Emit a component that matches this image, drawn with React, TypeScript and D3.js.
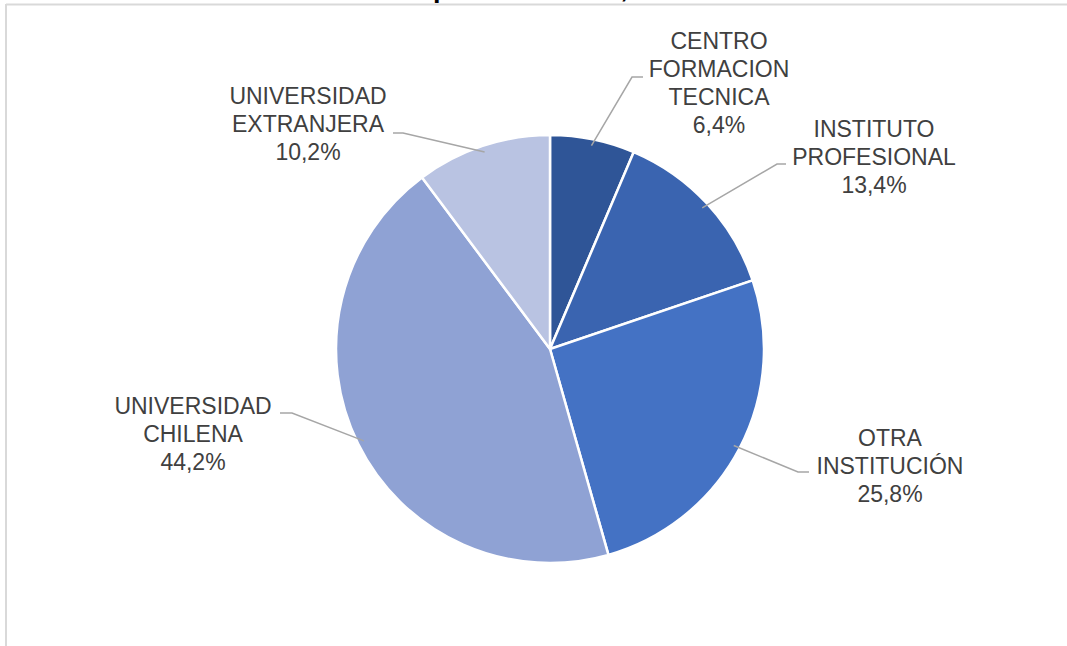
import React from "react";
import * as d3 from "d3";

const titleText = "Matrícula por institución, 2020";
const categories: string[][] = [
  ["CENTRO", "FORMACION", "TECNICA"],
  ["INSTITUTO", "PROFESIONAL"],
  ["OTRA", "INSTITUCIÓN"],
  ["UNIVERSIDAD", "CHILENA"],
  ["UNIVERSIDAD", "EXTRANJERA"],
];
const values: number[] = [6.4, 13.4, 25.8, 44.2, 10.2];
const percentLabels: string[] = ["6,4%", "13,4%", "25,8%", "44,2%", "10,2%"];
const colors: string[] = ["#2f5597", "#3a64b0", "#4472c4", "#8fa2d4", "#b9c3e2"];

// label layout: text centre x, first baseline y, leader-line elbow and end
const labelPos = [
  { x: 719, y: 49, elbow: [632, 77], end: [643, 77], r: 0.97 },
  { x: 874, y: 137, elbow: [777, 164], end: [786, 164], r: 0.97 },
  { x: 890, y: 446, elbow: [798, 472], end: [809, 472], r: 0.97 },
  { x: 193, y: 414, elbow: [292, 413], end: [280, 413], r: 0.97 },
  { x: 308, y: 104, elbow: [403, 133], end: [393, 133], r: 0.97 },
];

export default function App() {
  const W = 1067;
  const H = 646;
  const cx = 550;
  const cy = 349;
  const R = 214;

  const pie = d3.pie<number>().sort(null).value((d) => d);
  const arcs = pie(values);
  const arc = d3.arc<d3.PieArcDatum<number>>().innerRadius(0).outerRadius(R);
  const lh = 28;

  return (
    <svg
      width={W}
      height={H}
      style={{ position: "absolute", left: 0, top: 0, background: "#fff" }}
      fontFamily="'Liberation Sans', Arial, sans-serif"
    >
      <rect x={0} y={0} width={W} height={H} fill="#fff" />
      <text x={307} y={-3} textAnchor="start" fontSize={27} fontWeight="bold" fill="#000">
        {titleText}
      </text>
      <line x1={6} y1={4.5} x2={W} y2={4.5} stroke="#d9d9d9" strokeWidth={2} />
      <line x1={6} y1={4} x2={6} y2={H} stroke="#d9d9d9" strokeWidth={2} />
      <g transform={`translate(${cx},${cy})`}>
        {arcs.map((a, i) => (
          <path key={i} d={arc(a) || ""} fill={colors[i]} stroke="#fff" strokeWidth={2.5} />
        ))}
      </g>
      {arcs.map((a, i) => {
        const mid = (a.startAngle + a.endAngle) / 2;
        const lp = labelPos[i];
        const sx = cx + Math.sin(mid) * R * lp.r;
        const sy = cy - Math.cos(mid) * R * lp.r;
        return (
          <polyline
            key={"l" + i}
            points={`${sx},${sy} ${lp.elbow[0]},${lp.elbow[1]} ${lp.end[0]},${lp.end[1]}`}
            fill="none"
            stroke="#a6a6a6"
            strokeWidth={1.5}
          />
        );
      })}
      {categories.map((lines, i) => {
        const lp = labelPos[i];
        const all = [...lines, percentLabels[i]];
        return (
          <text key={"t" + i} textAnchor="middle" fontSize={23} fill="#404040">
            {all.map((s, j) => (
              <tspan key={j} x={lp.x} y={lp.y + j * lh}>
                {s}
              </tspan>
            ))}
          </text>
        );
      })}
    </svg>
  );
}
